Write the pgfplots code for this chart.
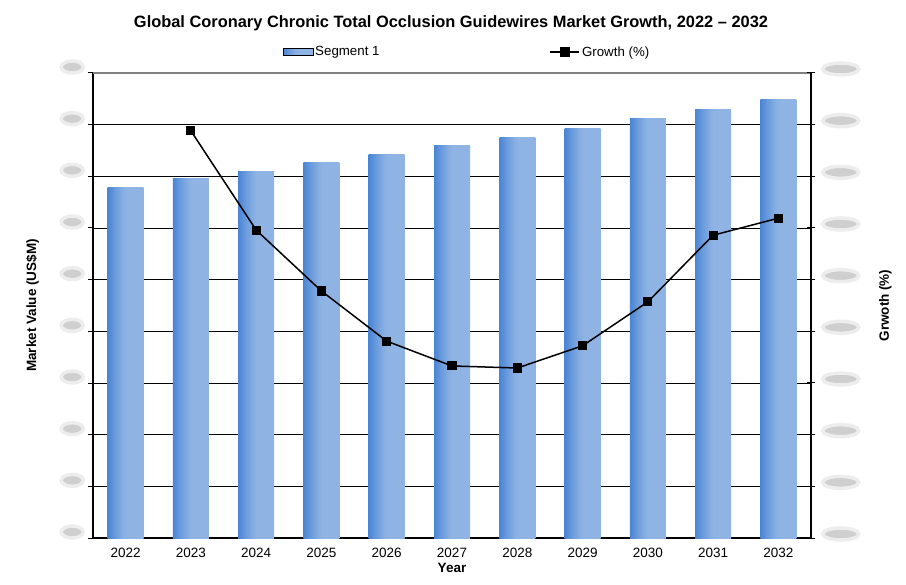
\documentclass[border=0pt]{standalone}
\usepackage{pgfplots}
\pgfplotsset{compat=1.18}
\usepackage{fontspec}
\setmainfont{Liberation Sans}
\usetikzlibrary{shapes.geometric}
\definecolor{barL}{HTML}{4A85D5}
\definecolor{barR}{HTML}{8FB4E4}
\pgfdeclarehorizontalshading{barshade}{100bp}{color(0bp)=(barL); color(25bp)=(barL); color(36bp)=(barL!50!barR); color(47bp)=(barR!92!barL); color(52bp)=(barR); color(100bp)=(barR)}
\pgfplotstableread{
x g
1 7.88
2 5.96
3 4.78
4 3.81
5 3.33
6 3.29
7 3.72
8 4.57
9 5.86
10 6.19
}\growthtable
\begin{document}
\begin{tikzpicture}
\useasboundingbox (-93bp,-47bp) rectangle (813bp,538bp);
\pgfplotsset{
  blob/.style={shape=ellipse, fill=black!19, draw=black!7, line width=3.5bp, minimum width=#1, minimum height=12bp, inner sep=0pt},
  gbar/.style={ybar, bar width=36bp, draw=none, shading=barshade},
}
\begin{axis}[
  at={(0bp,0bp)}, anchor=south west,
  scale only axis, width=718bp, height=465bp,
  xmin=-0.5, xmax=10.5, ymin=0, ymax=9,
  axis x line*=bottom, axis y line*=left,
  axis line style={black, line width=1.3bp, -},
  xtick={0,...,10},
  xticklabels={2022,2023,2024,2025,2026,2027,2028,2029,2030,2031,2032},
  xtick style={draw=none},
  minor xtick={-0.5,0.5,...,10.5},
  minor x tick style={black, line width=1bp},
  minor tick length=6bp,
  major tick length=5bp,
  tick align=outside,
  ytick={0,...,9},
  ytick style={black, line width=1bp},
  yticklabel={\hbox{}},
  yticklabel style={blob=22bp, xshift=-3bp, yshift=6bp},
  ymajorgrids, grid style={black, line width=0.9bp},
  xticklabel style={font=\fontsize{13.5bp}{16bp}\selectfont, yshift=-2bp},
  xlabel={Year}, xlabel style={font=\bfseries\fontsize{13.5bp}{16bp}\selectfont, yshift=2bp},
  ylabel={Market Value (US\$M)}, ylabel style={font=\bfseries\fontsize{13.5bp}{16bp}\selectfont, yshift=17bp},
  clip=false,
]
\addplot[gbar] coordinates {(0,6.79)};
\addplot[gbar] coordinates {(1,6.95)};
\addplot[gbar] coordinates {(2,7.10)};
\addplot[gbar] coordinates {(3,7.26)};
\addplot[gbar] coordinates {(4,7.43)};
\addplot[gbar] coordinates {(5,7.59)};
\addplot[gbar] coordinates {(6,7.76)};
\addplot[gbar] coordinates {(7,7.93)};
\addplot[gbar] coordinates {(8,8.11)};
\addplot[gbar] coordinates {(9,8.30)};
\addplot[gbar] coordinates {(10,8.48)};
\draw[black!50, line width=2bp] (rel axis cs:0,1) -- (rel axis cs:1,1);
\end{axis}
\begin{axis}[
  at={(0bp,0bp)}, anchor=south west,
  scale only axis, width=718bp, height=465bp,
  xmin=-0.5, xmax=10.5, ymin=0, ymax=9,
  axis x line=none, axis y line*=right,
  axis line style={black, line width=1.3bp, -},
  ytick={0,...,9},
  ytick style={black, line width=1bp},
  tick align=center, major tick length=8bp,
  yticklabel={\hbox{}},
  yticklabel style={blob=36bp, xshift=6bp, yshift=4bp},
  ylabel={Grwoth (\%)}, ylabel style={font=\bfseries\fontsize{13.5bp}{16bp}\selectfont, yshift=-15bp},
  legend columns=2,
  legend style={draw=none, fill=none, at={(rel axis cs:0.521,1.045)}, anchor=center,
    font=\fontsize{13.3bp}{16bp}\selectfont,
    /tikz/every even column/.append style={column sep=168bp}},
  clip=false,
]
\addlegendimage{legend image code/.code={\fill[shading=barshade] (-3bp,-3.5bp) rectangle (27bp,4bp);}}
\addlegendentry{Segment 1}
\addplot[black, line width=1.5bp, mark=square*, mark size=3.8bp,
  legend image code/.code={\draw[black, line width=1.5bp] (0bp,0bp) -- (29bp,0bp); \fill[black] (10.5bp,-4bp) rectangle (18.5bp,4bp);}]
  table[x=x, y=g] {\growthtable};
\addlegendentry{Growth (\%)}
\end{axis}
\node[font=\bfseries\fontsize{16.4bp}{19bp}\selectfont] at (358bp,515bp) {Global Coronary Chronic Total Occlusion Guidewires Market Growth, 2022 -- 2032};
\end{tikzpicture}
\end{document}
